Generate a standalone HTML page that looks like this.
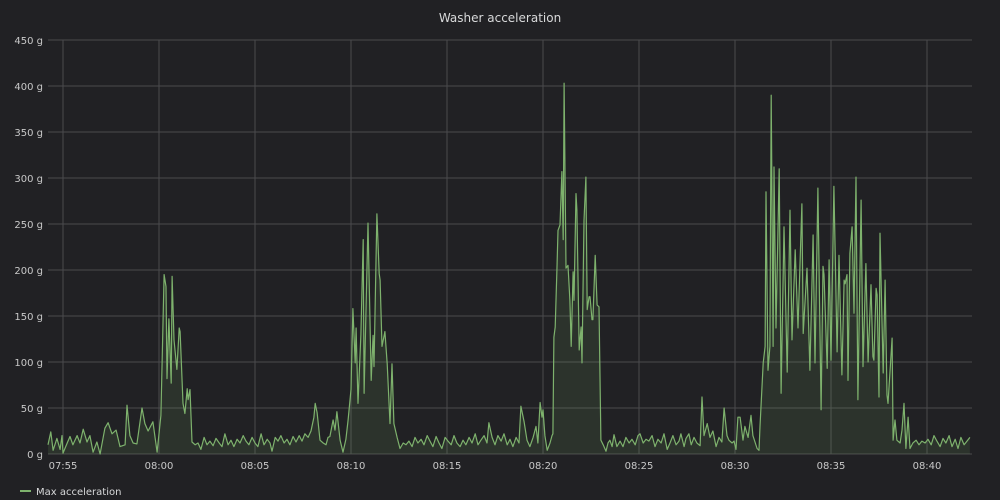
<!DOCTYPE html>
<html><head><meta charset="utf-8"><style>
html,body{margin:0;padding:0;background:#212124;}
svg{display:block;font-family:"DejaVu Sans","Liberation Sans",sans-serif;}
</style></head><body>
<svg id="chart" width="1000" height="500" viewBox="0 0 1000 500">
<rect x="0" y="0" width="1000" height="500" fill="#212124"/>
<text x="500" y="22" text-anchor="middle" fill="#d8d9da" font-size="12">Washer acceleration</text>
<g id="grid"></g>
<g id="series"></g>
<g id="axes"></g>
<g>
<line x1="20" y1="491" x2="31" y2="491" stroke="#7eb26d" stroke-width="2"/>
<text x="36" y="495" fill="#d8d9da" font-size="10">Max acceleration</text>
</g>
</svg>
<script>
// seconds relative to 07:55:00
const times = [-47,-38,-31,-19,-9,-3,0,13,22,31,44,53,63,75,84,94,106,116,131,141,153,166,178,194,200,209,219,231,247,256,266,281,294,306,316,322,325,331,338,341,347,356,363,366,375,381,388,391,397,403,413,
422,431,441,450,459,469,478,488,497,506,516,525,534,544,553,563,572,581,591,600,609,619,628,638,647,653,663,672,681,691,700,709,719,728,738,747,756,766,775,784,788,794,803,813,822,828,834,844,850,856,866,875,884,891,900,906,913,916,922,931,938,941,953,963,969,972,981,988,991,997,1006,1013,1022,1028,1034,1044,1053,1063,
1072,1081,1091,1100,1109,1119,1128,1138,1147,1156,1166,1175,1184,1194,1203,1213,1222,1231,1241,1250,1259,1269,1278,1288,1297,1306,1316,1325,1331,1341,1350,1359,1369,1378,1388,1397,1406,1416,1425,1431,1441,1450,1459,1469,1478,1484,1491,1497,1500,1506,1513,1522,1528,
1531,1534,1538,1544,1547,1553,1559,1563,1566,1572,1578,1584,1588,1594,1597,1603,1606,1613,1619,1622,1628,1634,1638,1644,1647,1653,1656,1663,1669,1675,1681,1688,1697,1703,1709,1716,1722,1731,
1741,1750,1759,1769,1778,1788,1797,1803,1813,1822,1831,1841,1850,1859,1869,1878,1888,1897,1906,1916,1925,1931,1941,1947,1956,1963,1972,1981,1991,1997,2003,2013,2022,2031,2041,2050,2059,2066,2075,2081,2091,2097,2103,2109,2116,2125,2131,2141,2150,2156,2169,2175,
2178,2188,2194,2197,2203,2209,2213,2219,2222,2228,2238,2244,2253,2263,2272,2278,2288,2297,2309,2313,2325,2334,2344,2350,2359,2369,2375,2378,2388,2394,2400,2409,2419,2425,2434,2441,2444,2450,2453,2459,2466,2472,2478,2484,2494,2500,2509,2516,2525,2531,2534,2541,2544,2550,2553,2563,2569,2575,2578,2591,2594,2600,2606,
2616,2622,2628,2634,2641,2647,2656,2666,2675,2684,2694,2703,2713,2722,2731,2741,2750,2759,2769,2778,2788,2797,2806,2816,2825,2834];
const values = [10,24,4,17,5,20,1,12,19,10,20,12,27,13,20,2,13,0,28,34,22,26,8,10,53,20,12,11,50,33,25,35,2,42,195,182,82,147,77,193,124,92,137,133,55,44,71,59,70,13,10,
12,5,18,10,14,9,17,12,8,22,10,15,8,16,12,20,14,10,18,12,8,22,10,16,12,3,18,14,20,12,16,10,19,13,20,14,22,18,25,40,55,45,15,12,10,18,19,37,26,46,15,2,16,37,70,158,99,137,55,130,233,66,251,80,129,95,261,196,189,117,133,98,33,98,33,18,6,12,
10,14,8,18,12,16,10,20,14,8,19,12,6,18,14,10,20,12,8,15,10,18,12,22,10,15,20,12,34,18,10,20,14,22,10,16,8,18,12,52,35,15,8,18,30,12,56,40,48,20,4,12,20,
22,127,138,207,243,249,307,233,403,202,205,167,117,198,167,283,265,113,138,99,254,301,157,171,171,146,146,216,162,160,15,10,3,12,15,8,21,8,
14,8,18,12,16,10,20,22,12,16,14,20,8,16,12,22,5,12,20,10,14,22,8,17,22,10,18,12,9,62,20,33,18,25,8,18,13,50,20,15,12,14,5,40,40,15,30,18,42,20,6,4,
30,99,117,285,91,117,390,117,312,137,310,66,247,89,265,124,222,137,272,131,202,91,238,99,289,48,204,195,93,211,102,291,111,216,86,189,185,195,80,218,247,153,301,59,276,95,207,100,184,106,102,180,173,62,240,88,189,64,55,126,15,37,15,
12,26,55,6,40,6,12,15,10,14,12,16,10,20,14,8,17,12,20,8,16,6,18,10,14,18];
const yTickVals = [0,50,100,150,200,250,300,350,400,450];
const xTickLabels = ["07:55","08:00","08:05","08:10","08:15","08:20","08:25","08:30","08:35","08:40"];
const xTickSecs = [0,300,600,900,1200,1500,1800,2100,2400,2700];

const NS="http://www.w3.org/2000/svg";
const L=48,R=972,T=40,B=454;
const xs=t=>63+t*96/300;
const ys=v=>B-(v/450)*(B-T);
function mk(tag,attrs,parent){const e=document.createElementNS(NS,tag);for(const k in attrs)e.setAttribute(k,attrs[k]);parent.appendChild(e);return e;}
const grid=document.getElementById('grid'),axes=document.getElementById('axes'),ser=document.getElementById('series');
yTickVals.forEach(v=>{
  const ln=mk('line',{x1:L,x2:R,y1:ys(v),y2:ys(v),stroke:'#4a4a4d','stroke-width':1},grid);
  
  
  const tx=mk('text',{x:43,y:ys(v)+4,'text-anchor':'end',fill:'#c8c8c8','font-size':10},axes);
  tx.textContent=v+' g';
  
  
});
xTickSecs.forEach((s,i)=>{
  const ln=mk('line',{x1:xs(s),x2:xs(s),y1:T,y2:B,stroke:'#4a4a4d','stroke-width':1},grid);
  
  
  const tx=mk('text',{x:xs(s),y:469,'text-anchor':'middle',fill:'#c8c8c8','font-size':10},axes);
  tx.textContent=xTickLabels[i];
  
  
});
let d='';
times.forEach((t,i)=>{d+=(i?'L':'M')+xs(t).toFixed(1)+','+ys(values[i]).toFixed(1);});
const area=mk('path',{d:d+'L'+xs(times[times.length-1]).toFixed(1)+','+B+'L'+xs(times[0]).toFixed(1)+','+B+'Z',fill:'rgba(126,178,109,0.12)'},ser);


const line=mk('path',{d:d,fill:'none',stroke:'#7eb26d','stroke-width':1.2,'stroke-linejoin':'round'},ser);


</script>
</body></html>
